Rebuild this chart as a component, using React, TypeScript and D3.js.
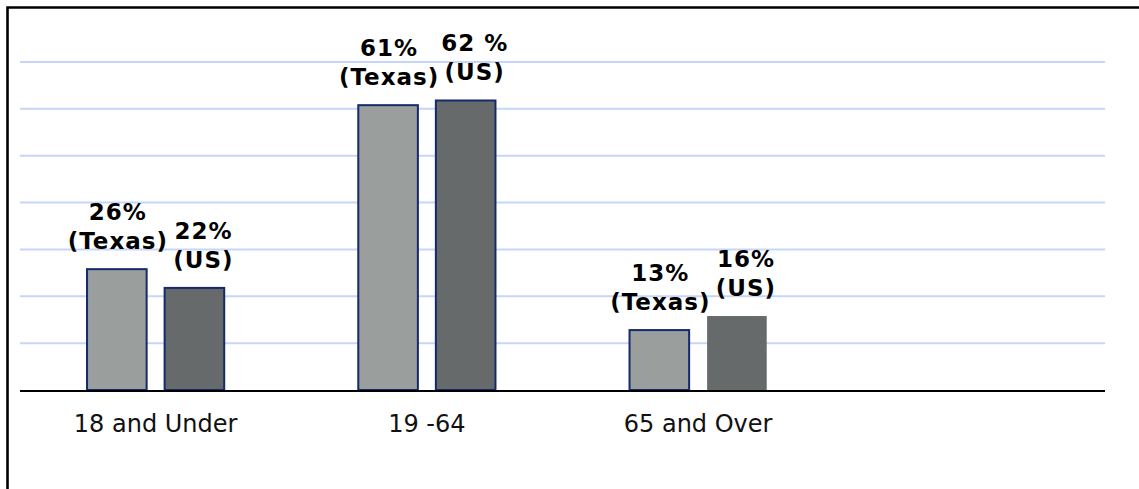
import React, { useEffect, useRef } from "react";
import * as d3 from "d3";

const categories = ["18 and Under", "19 -64", "65 and Over"];
const series = ["Texas", "US"];
const texasValues = [26, 61, 13];
const usValues = [22, 62, 16];
const texasLabels = ["26%", "61%", "13%"];
const usLabels = ["22%", "62 %", "16%"];
const gridTicks = [10, 20, 30, 40, 50, 60, 70];

const W = 1139;
const H = 489;

export default function App() {
  const ref = useRef<SVGSVGElement>(null);

  useEffect(() => {
    const svg = d3.select(ref.current);
    svg.selectAll("*").remove();

    const left = 20,
      right = 1105,
      baseY = 390,
      topY = 62;

    // 4 slots, the last one left empty like in the original
    const x0 = d3
      .scaleBand<string>()
      .domain([...categories, "empty"])
      .range([left, right]);
    const x1 = d3
      .scaleBand<string>()
      .domain(series)
      .range([0, x0.bandwidth()])
      .paddingInner(0.206)
      .paddingOuter(0.851);
    const y = d3.scaleLinear().domain([0, 70]).range([baseY, topY]);

    // outer frame (right / bottom edges fall outside the picture)
    svg
      .append("path")
      .attr("d", `M7.5,${H} V7.5 H${W}`)
      .attr("fill", "none")
      .attr("stroke", "#000")
      .attr("stroke-width", 2.6);

    svg
      .append("g")
      .selectAll("line")
      .data(gridTicks)
      .enter()
      .append("line")
      .attr("x1", left)
      .attr("x2", right)
      .attr("y1", d => y(d))
      .attr("y2", d => y(d))
      .attr("stroke", "#c6d6fa")
      .attr("stroke-width", 2);

    const rows = categories.flatMap((c, i) => [
      { cat: c, s: "Texas", v: texasValues[i], label: texasLabels[i] },
      { cat: c, s: "US", v: usValues[i], label: usLabels[i] }
    ]);

    const fill: Record<string, string> = { Texas: "#9a9f9e", US: "#666a6a" };

    svg
      .append("g")
      .selectAll("rect")
      .data(rows)
      .enter()
      .append("rect")
      .attr("x", d => (x0(d.cat) as number) + (x1(d.s) as number) + 1)
      .attr("y", d => y(d.v) + 1)
      .attr("width", x1.bandwidth() - 2)
      .attr("height", d => y(0) - y(d.v) - 1)
      .attr("fill", d => fill[d.s])
      .attr("stroke", d => (d.s === "US" && d.cat === "65 and Over" ? "none" : "#15296b"))
      .attr("stroke-width", 2);

    // baseline
    svg
      .append("line")
      .attr("x1", left)
      .attr("x2", right)
      .attr("y1", baseY + 1)
      .attr("y2", baseY + 1)
      .attr("stroke", "#000")
      .attr("stroke-width", 2);

    const labels = svg
      .append("g")
      .attr("font-family", "DejaVu Sans, Verdana, sans-serif")
      .attr("font-weight", "bold")
      .attr("font-size", 23)
      .attr("letter-spacing", 1)
      .attr("text-anchor", "middle")
      .attr("fill", "#000");

    const lx = (d: any) =>
      (x0(d.cat) as number) + (x1(d.s) as number) + x1.bandwidth() / 2 + (d.s === "US" ? 8 : 0) + 1;

    labels
      .selectAll("text.v")
      .data(rows)
      .enter()
      .append("text")
      .attr("class", "v")
      .attr("x", lx)
      .attr("y", d => y(d.v) - 48)
      .text(d => d.label);

    labels
      .selectAll("text.s")
      .data(rows)
      .enter()
      .append("text")
      .attr("class", "s")
      .attr("x", lx)
      .attr("y", d => y(d.v) - 19)
      .text(d => `(${d.s})`);

    svg
      .append("g")
      .selectAll("text")
      .data(categories)
      .enter()
      .append("text")
      .attr("x", d => (x0(d) as number) + x0.bandwidth() / 2)
      .attr("y", 432)
      .attr("text-anchor", "middle")
      .attr("font-family", "DejaVu Sans, Verdana, sans-serif")
      .attr("font-size", 24)
      .attr("fill", "#111")
      .text(d => d);
  }, []);

  return (
    <svg
      ref={ref}
      width={W}
      height={H}
      style={{ position: "absolute", left: 0, top: 0, background: "#fff" }}
    />
  );
}
